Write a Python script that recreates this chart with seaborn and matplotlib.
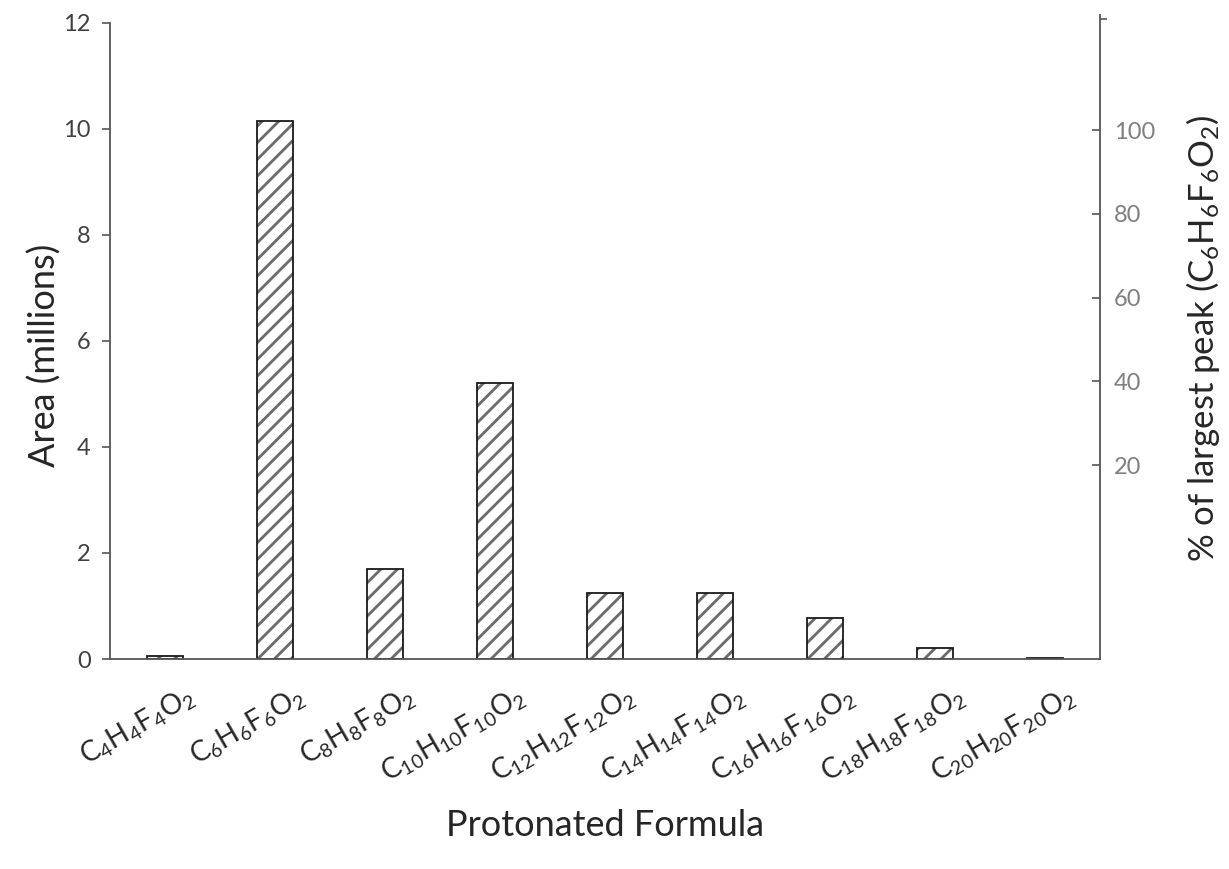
import matplotlib
matplotlib.use("Agg")
import matplotlib.pyplot as plt
import matplotlib.transforms as mtransforms
from matplotlib.colors import to_rgba
import seaborn as sns
import pandas as pd

# ---- data ----
formulas = ["C4H4F4O2", "C6H6F6O2", "C8H8F8O2", "C10H10F10O2", "C12H12F12O2",
            "C14H14F14O2", "C16H16F16O2", "C18H18F18O2", "C20H20F20O2"]
tick_labels = [r"$\mathregular{C_{4}H_{4}F_{4}O_{2}}$",
               r"$\mathregular{C_{6}H_{6}F_{6}O_{2}}$",
               r"$\mathregular{C_{8}H_{8}F_{8}O_{2}}$",
               r"$\mathregular{C_{10}H_{10}F_{10}O_{2}}$",
               r"$\mathregular{C_{12}H_{12}F_{12}O_{2}}$",
               r"$\mathregular{C_{14}H_{14}F_{14}O_{2}}$",
               r"$\mathregular{C_{16}H_{16}F_{16}O_{2}}$",
               r"$\mathregular{C_{18}H_{18}F_{18}O_{2}}$",
               r"$\mathregular{C_{20}H_{20}F_{20}O_{2}}$"]
area_millions = [0.05, 10.15, 1.70, 5.20, 1.24, 1.24, 0.78, 0.21, 0.02]
left_ticks = [0, 2, 4, 6, 8, 10, 12]
right_ticks = [20, 40, 60, 80, 100]

df = pd.DataFrame({"formula": formulas, "area": area_millions})

sns.set_theme(style="white")
plt.rcParams["font.family"] = ["Lato", "DejaVu Sans"]
plt.rcParams["mathtext.fontset"] = "custom"
plt.rcParams["mathtext.rm"] = "Lato"
plt.rcParams["hatch.linewidth"] = 2.0

W, H = 1229, 869
fig = plt.figure(figsize=(W / 100, H / 100), dpi=100)
left, right, top, bottom = 110, 1100, 15, 659
ax = fig.add_axes([left / W, 1 - bottom / H, (right - left) / W, (bottom - top) / H])

sns.barplot(data=df, x="formula", y="area", ax=ax, color="white",
            edgecolor="#1a1a1a", linewidth=1.3, width=0.32, saturation=1)
for p in ax.patches:
    p.set_hatch("//")
    if hasattr(p, "set_hatchcolor"):
        p.set_hatchcolor("#6a6a6a")
    else:
        p._hatch_color = to_rgba("#6a6a6a")

axis_color = "#555555"
ax.set_xlim(-0.5, len(formulas) - 0.5)
ax.set_ylim(0, 12.15)
ax.set_yticks(left_ticks)
ax.set_yticklabels([str(t) for t in left_ticks], fontsize=17, color="#404040")
for s in ["top", "right"]:
    ax.spines[s].set_visible(False)
ax.spines["left"].set_bounds(0, 12)
for s in ["left", "bottom"]:
    ax.spines[s].set_color(axis_color)
    ax.spines[s].set_linewidth(1.3)
ax.tick_params(axis="y", direction="out", length=6, width=1.2, color=axis_color, pad=8)

ax.set_xticks(range(len(formulas)))
ax.set_xticklabels(tick_labels, fontsize=20, rotation=30, ha="right",
                   rotation_mode="anchor", va="center")
ax.tick_params(axis="x", which="major", length=0, pad=26)
ax.set_xticks([i - 0.5 for i in range(len(formulas) + 1)], minor=True)
ax.tick_params(axis="x", which="minor", direction="out", length=5, width=1.0, color=axis_color)
offset = mtransforms.ScaledTranslation(0.28, 0.0, fig.dpi_scale_trans)
for lab in ax.get_xticklabels():
    lab.set_transform(lab.get_transform() + offset)

ax.set_xlabel("")
ax.set_ylabel("")
fig.text(605 / W, 1 - 825 / H, "Protonated Formula", fontsize=26,
         ha="center", va="center")
fig.text(45 / W, 1 - 355 / H, "Area (millions)", fontsize=26, rotation=90,
         ha="center", va="center")

ax2 = ax.twinx()
ax2.set_ylim(-26.3, 127.5)
ax2.set_yticks(right_ticks)
ax2.set_yticklabels([str(t) for t in right_ticks], fontsize=17, color="#7f7f7f")
ax2.set_yticks([126.5], minor=True)
for s in ["top", "left", "bottom"]:
    ax2.spines[s].set_visible(False)
ax2.spines["right"].set_color(axis_color)
ax2.spines["right"].set_linewidth(1.3)
ax2.tick_params(axis="y", which="major", direction="in", length=6, width=1.2,
                color=axis_color, pad=10)
ax2.tick_params(axis="y", which="minor", direction="out", length=5, width=1.2,
                color=axis_color)
fig.text(1203 / W, 1 - 338 / H,
         r"% of largest peak (C$\mathregular{_{6}}$H$\mathregular{_{6}}$F$\mathregular{_{6}}$O$\mathregular{_{2}}$)",
         fontsize=25, rotation=90, ha="center", va="center")

fig.savefig("out.png", dpi=100)
